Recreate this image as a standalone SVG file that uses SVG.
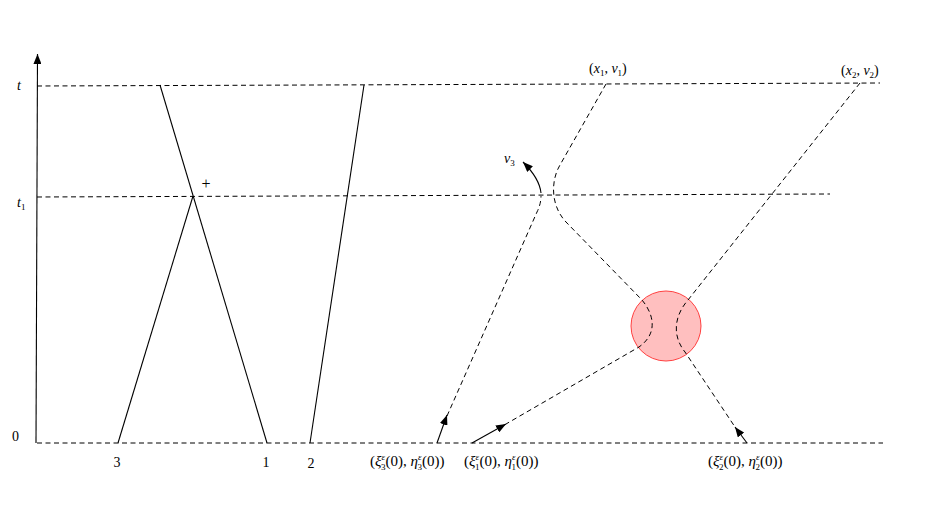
<svg xmlns="http://www.w3.org/2000/svg" width="927" height="506" viewBox="0 0 927 506">
<style>
text{font-family:"Liberation Serif","DejaVu Serif",serif;font-size:14px;fill:#000}
.i{font-style:italic}
.s{font-size:9px}
.b{font-size:15px}
.d{fill:none;stroke:#000;stroke-width:1;stroke-dasharray:5,3.5}
.l{fill:none;stroke:#000;stroke-width:1.1}
</style>
<defs>
<marker id="ah" viewBox="0 0 10 8" refX="10" refY="4" markerWidth="10" markerHeight="8" markerUnits="userSpaceOnUse" orient="auto">
<path d="M0,0 L10,4 L0,8 Z" fill="#000"/>
</marker>
</defs>
<rect width="927" height="506" fill="#fff"/>
<g id="axes">
<line x1="36" y1="443" x2="37.5" y2="54" class="l" marker-end="url(#ah)"/>
<line x1="37" y1="86" x2="880" y2="83" class="d"/>
<line x1="37" y1="197" x2="830" y2="194" class="d"/>
<line x1="37" y1="443" x2="883" y2="443" class="d"/>
</g>
<g id="collision">
<circle cx="666" cy="326" r="35" fill="#ffbfbf" stroke="#ff4040" stroke-width="1"/>
</g>
<g id="connectors">
<line x1="160" y1="85" x2="267" y2="443" class="l"/>
<line x1="193" y1="196" x2="118" y2="443" class="l"/>
<line x1="364" y1="85" x2="310" y2="443" class="l"/>
<path d="M606,84 L560,165 C551,180 550,205 566,222 L642,300 C652,312 660,332 639,347 L506,424" class="d"/>
<line x1="472" y1="443" x2="506" y2="424" class="l" marker-end="url(#ah)"/>
<path d="M860,83 L688,300 C674,316 672,336 685,352 L735,427" class="d"/>
<line x1="747" y1="443" x2="735" y2="427" class="l" marker-end="url(#ah)"/>
<path d="M447,416 L537,212 Q541,204 541,196" class="d"/>
<line x1="437" y1="443" x2="447" y2="415" class="l" marker-end="url(#ah)"/>
<path d="M541,193 C540,183 533,172 523,162" class="l" marker-end="url(#ah)"/>
</g>
<g id="labels">
<text x="17" y="90" class="i">t</text>
<text x="17" y="207"><tspan class="i">t</tspan><tspan class="s" dy="3">1</tspan></text>
<text x="12" y="441">0</text>
<text x="117" y="467" text-anchor="middle">3</text>
<text x="266" y="467" text-anchor="middle">1</text>
<text x="311" y="468" text-anchor="middle">2</text>
<text x="206" y="189" text-anchor="middle" style="font-size:16px">+</text>
<text x="589" y="73">(<tspan class="i">x</tspan><tspan class="s" dy="3">1</tspan><tspan dy="-3">, </tspan><tspan class="i">v</tspan><tspan class="s" dy="3">1</tspan><tspan dy="-3">)</tspan></text>
<text x="841" y="75">(<tspan class="i">x</tspan><tspan class="s" dy="3">2</tspan><tspan dy="-3">, </tspan><tspan class="i">v</tspan><tspan class="s" dy="3">2</tspan><tspan dy="-3">)</tspan></text>
<text x="504" y="163"><tspan class="i">v</tspan><tspan class="s" dy="3">3</tspan></text>
<text x="370" y="466" class="b">(<tspan class="i">ξ</tspan><tspan class="s i" dy="-6">ε</tspan><tspan class="s" dx="-4" dy="10">3</tspan><tspan dy="-4">(0), </tspan><tspan class="i">η</tspan><tspan class="s i" dy="-6">ε</tspan><tspan class="s" dx="-4" dy="10">3</tspan><tspan dy="-4">(0))</tspan></text>
<text x="464" y="466" class="b">(<tspan class="i">ξ</tspan><tspan class="s i" dy="-6">ε</tspan><tspan class="s" dx="-4" dy="10">1</tspan><tspan dy="-4">(0), </tspan><tspan class="i">η</tspan><tspan class="s i" dy="-6">ε</tspan><tspan class="s" dx="-4" dy="10">1</tspan><tspan dy="-4">(0))</tspan></text>
<text x="708" y="466" class="b">(<tspan class="i">ξ</tspan><tspan class="s i" dy="-6">ε</tspan><tspan class="s" dx="-4" dy="10">2</tspan><tspan dy="-4">(0), </tspan><tspan class="i">η</tspan><tspan class="s i" dy="-6">ε</tspan><tspan class="s" dx="-4" dy="10">2</tspan><tspan dy="-4">(0))</tspan></text>
</g>
</svg>
